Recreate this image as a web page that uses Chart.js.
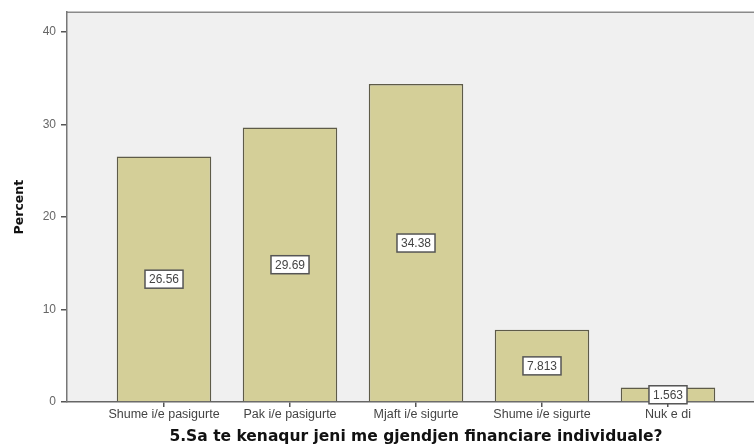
<!DOCTYPE html>
<html>
<head>
<meta charset="utf-8">
<script src="https://cdn.jsdelivr.net/npm/chart.js@4/dist/chart.umd.min.js"></script>
<style>
html,body{margin:0;padding:0;background:#fff;overflow:hidden;width:754px;height:446px;}
#wrap{position:absolute;left:0;top:0;width:770px;height:446px;}
</style>
</head>
<body>
<div id="wrap"><canvas id="c" width="770" height="446"></canvas></div>
<script>
const categories = ["Shume i/e pasigurte", "Pak i/e pasigurte", "Mjaft i/e sigurte", "Shume i/e sigurte", "Nuk e di"];
const percentValues = [26.56, 29.69, 34.38, 7.813, 1.563];
const yTicks = [0, 10, 20, 30, 40];
const xTitle = "5.Sa te kenaqur jeni me gjendjen financiare individuale?";
const yTitle = "Percent";

const bgPlugin = {
  id: 'bg',
  beforeDraw(chart) {
    const {ctx, chartArea: a} = chart;
    ctx.save();
    ctx.fillStyle = '#ffffff';
    ctx.fillRect(0, 0, chart.width, chart.height);
    ctx.fillStyle = '#f0f0f0';
    ctx.fillRect(a.left, a.top, a.right - a.left, a.bottom - a.top);
    ctx.strokeStyle = '#8a8a8a';
    ctx.lineWidth = 1.5;
    ctx.beginPath();
    ctx.moveTo(a.left, a.top);
    ctx.lineTo(a.right, a.top);
    ctx.stroke();
    ctx.restore();
  }
};

const labelPlugin = {
  id: 'boxLabels',
  afterDatasetsDraw(chart) {
    const {ctx} = chart;
    const meta = chart.getDatasetMeta(0);
    const ys = chart.scales.y;
    ctx.save();
    ctx.font = '12px "Liberation Sans", Arial, sans-serif';
    ctx.textAlign = 'center';
    ctx.textBaseline = 'middle';
    meta.data.forEach((bar, i) => {
      const v = percentValues[i];
      const txt = String(v);
      const cy = ys.getPixelForValue(v / 2);
      const w = ctx.measureText(txt).width + 8;
      const h = 18;
      ctx.fillStyle = '#ffffff';
      ctx.fillRect(bar.x - w / 2, cy - h / 2, w, h);
      ctx.strokeStyle = '#555555';
      ctx.lineWidth = 1.5;
      ctx.strokeRect(bar.x - w / 2, cy - h / 2, w, h);
      ctx.fillStyle = '#444444';
      ctx.fillText(txt, bar.x, cy + 0.5);
    });
    ctx.restore();
  }
};

new Chart(document.getElementById('c'), {
  type: 'bar',
  data: {
    datasets: [{
      data: categories.map((c, i) => ({x: i + 1, y: percentValues[i]})),
      backgroundColor: '#d4cf98',
      borderColor: '#5e5b48',
      borderWidth: 1.5,
      barPercentage: 0.75,
      categoryPercentage: 1.0
    }]
  },
  options: {
    responsive: false,
    animation: false,
    layout: {padding: {top: 12, right: 5, left: 0, bottom: 0}},
    plugins: {legend: {display: false}, tooltip: {enabled: false}},
    scales: {
      x: {
        type: 'linear',
        min: 0.23,
        max: 5.77,
        offset: false,
        afterBuildTicks: s => { s.ticks = categories.map((c, i) => ({value: i + 1})); },
        afterFit: s => { s.height = 44; },
        grid: {display: true, offset: false, drawOnChartArea: false, drawTicks: true, tickLength: 5, color: '#555', lineWidth: 1.5},
        border: {display: true, color: '#666', width: 1.5},
        ticks: {
          autoSkip: false, maxRotation: 0, padding: 0,
          color: '#444',
          font: {family: '"Liberation Sans", Arial, sans-serif', size: 12.5},
          callback: v => categories[Math.round(v) - 1]
        },
        title: {
          display: true, text: xTitle, color: '#111',
          font: {family: '"DejaVu Sans", Verdana, sans-serif', size: 15.5, weight: 'bold'},
          padding: {top: 0, bottom: 0}
        }
      },
      y: {
        min: 0,
        max: 42.15,
        afterBuildTicks: s => { s.ticks = yTicks.map(v => ({value: v})); },
        afterFit: s => { s.width = 67; },
        grid: {display: true, drawOnChartArea: false, drawTicks: true, tickLength: 6, color: '#555', lineWidth: 1.5},
        border: {display: true, color: '#777', width: 1.5},
        ticks: {
          padding: 5, color: '#666',
          font: {family: '"Liberation Sans", Arial, sans-serif', size: 12}
        },
        title: {
          display: true, text: yTitle, color: '#111',
          font: {family: '"DejaVu Sans", Verdana, sans-serif', size: 12.5, weight: 'bold'},
          padding: {top: 12, bottom: 0}
        }
      }
    }
  },
  plugins: [bgPlugin, labelPlugin]
});
</script>
</body>
</html>
